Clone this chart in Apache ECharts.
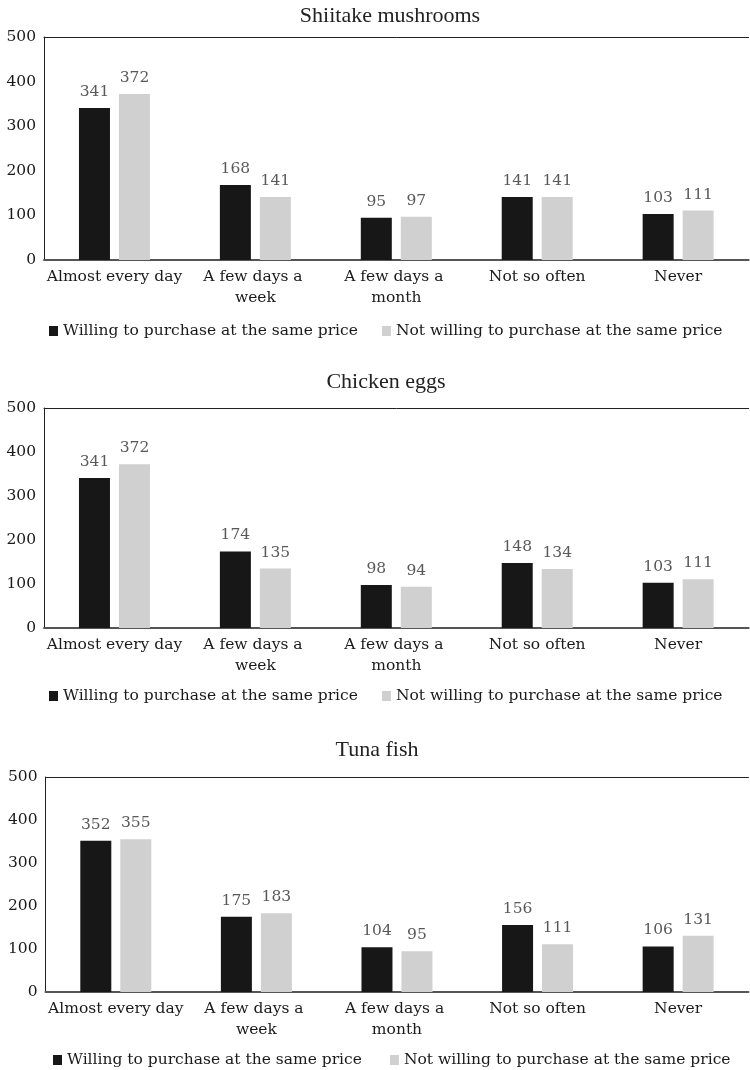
<!DOCTYPE html>
<html>
<head>
<meta charset="utf-8">
<script src="https://cdn.jsdelivr.net/npm/echarts@6/dist/echarts.min.js"></script>
<style>
  html, body { margin: 0; padding: 0; background: #ffffff; }
  #chart { width: 750px; height: 1070px; }
</style>
</head>
<body>
<div id="chart"></div>
<script>
// Purchase frequency categories (shared by all three panels)
const categories = ['Almost every day', 'A few days a week', 'A few days a month', 'Not so often', 'Never'];
const seriesNames = ['Willing to purchase at the same price', 'Not willing to purchase at the same price'];
const panelTitles = ['Shiitake mushrooms', 'Chicken eggs', 'Tuna fish'];
const yTicks = [0, 100, 200, 300, 400, 500];

// Respondent counts per product
const shiitakeWilling = [341, 168, 95, 141, 103];
const shiitakeNotWilling = [372, 141, 97, 141, 111];
const eggsWilling = [341, 174, 98, 148, 103];
const eggsNotWilling = [372, 135, 94, 134, 111];
const tunaWilling = [352, 175, 104, 156, 106];
const tunaNotWilling = [355, 183, 95, 111, 131];

const panelData = [
  [shiitakeWilling, shiitakeNotWilling],
  [eggsWilling, eggsNotWilling],
  [tunaWilling, tunaNotWilling]
];

const serif = 'DejaVu Serif';
const titleFont = 'Liberation Serif';
const textColor = '#1a1a1a';
const barColors = ['#171717', '#d0d0d0'];

// Panel geometry
const layout = [
  { top: 37, height: 223, left: 44, titleX: 390, titleTop: 5, legendTop: 318, legendLeft: 44, legendGap: 24 },
  { top: 408, height: 220, left: 44, titleX: 386, titleTop: 371, legendTop: 683, legendLeft: 44, legendGap: 24 },
  { top: 777, height: 215, left: 45.5, titleX: 377, titleTop: 739, legendTop: 1047, legendLeft: 48, legendGap: 28 }
];

const option = {
  animation: false,
  backgroundColor: '#ffffff',
  title: [],
  legend: [],
  grid: [],
  xAxis: [],
  yAxis: [],
  series: []
};

layout.forEach((p, i) => {
  option.title.push({
    text: panelTitles[i],
    left: p.titleX,
    top: p.titleTop,
    textAlign: 'center',
    padding: 0,
    textStyle: { fontFamily: titleFont, fontSize: 22, fontWeight: 'normal', color: '#222222' }
  });
  option.legend.push({
    data: seriesNames,
    left: p.legendLeft,
    top: p.legendTop,
    itemWidth: 9,
    itemHeight: 10,
    itemGap: p.legendGap,
    icon: 'rect',
    textStyle: { fontFamily: serif, fontSize: 15.5, color: textColor }
  });
  option.grid.push({
    left: p.left,
    right: 0,
    top: p.top,
    height: p.height
  });
  // Bottom category axis
  option.xAxis.push({
    type: 'category',
    gridIndex: i,
    data: categories,
    axisLine: { lineStyle: { color: '#555555', width: 2 } },
    axisTick: { show: false },
    axisLabel: {
      fontFamily: serif,
      fontSize: 15.5,
      color: textColor,
      margin: 6,
      lineHeight: 21,
      width: 138,
      overflow: 'break',
      interval: 0
    }
  });
  // Top frame line of the plot area
  option.xAxis.push({
    type: 'category',
    gridIndex: i,
    position: 'top',
    data: categories,
    axisLine: { show: true, lineStyle: { color: '#222222', width: 1 } },
    axisTick: { show: false },
    axisLabel: { show: false }
  });
  option.yAxis.push({
    type: 'value',
    gridIndex: i,
    min: yTicks[0],
    max: yTicks[yTicks.length - 1],
    interval: 100,
    axisLine: { show: true, lineStyle: { color: '#222222', width: 1 } },
    axisTick: { show: false },
    splitLine: { show: false },
    axisLabel: { fontFamily: serif, fontSize: 15.5, color: textColor, margin: 8 }
  });
  panelData[i].forEach((values, s) => {
    option.series.push({
      type: 'bar',
      name: seriesNames[s],
      xAxisIndex: i * 2,
      yAxisIndex: i,
      data: values,
      barWidth: 31,
      barGap: '29%',
      itemStyle: { color: barColors[s] },
      label: {
        show: true,
        position: 'top',
        distance: 8,
        fontFamily: serif,
        fontSize: 15.5,
        color: '#595959'
      }
    });
  });
});

const chart = echarts.init(document.getElementById('chart'), null, { renderer: 'canvas' });
chart.setOption(option);
</script>
</body>
</html>
